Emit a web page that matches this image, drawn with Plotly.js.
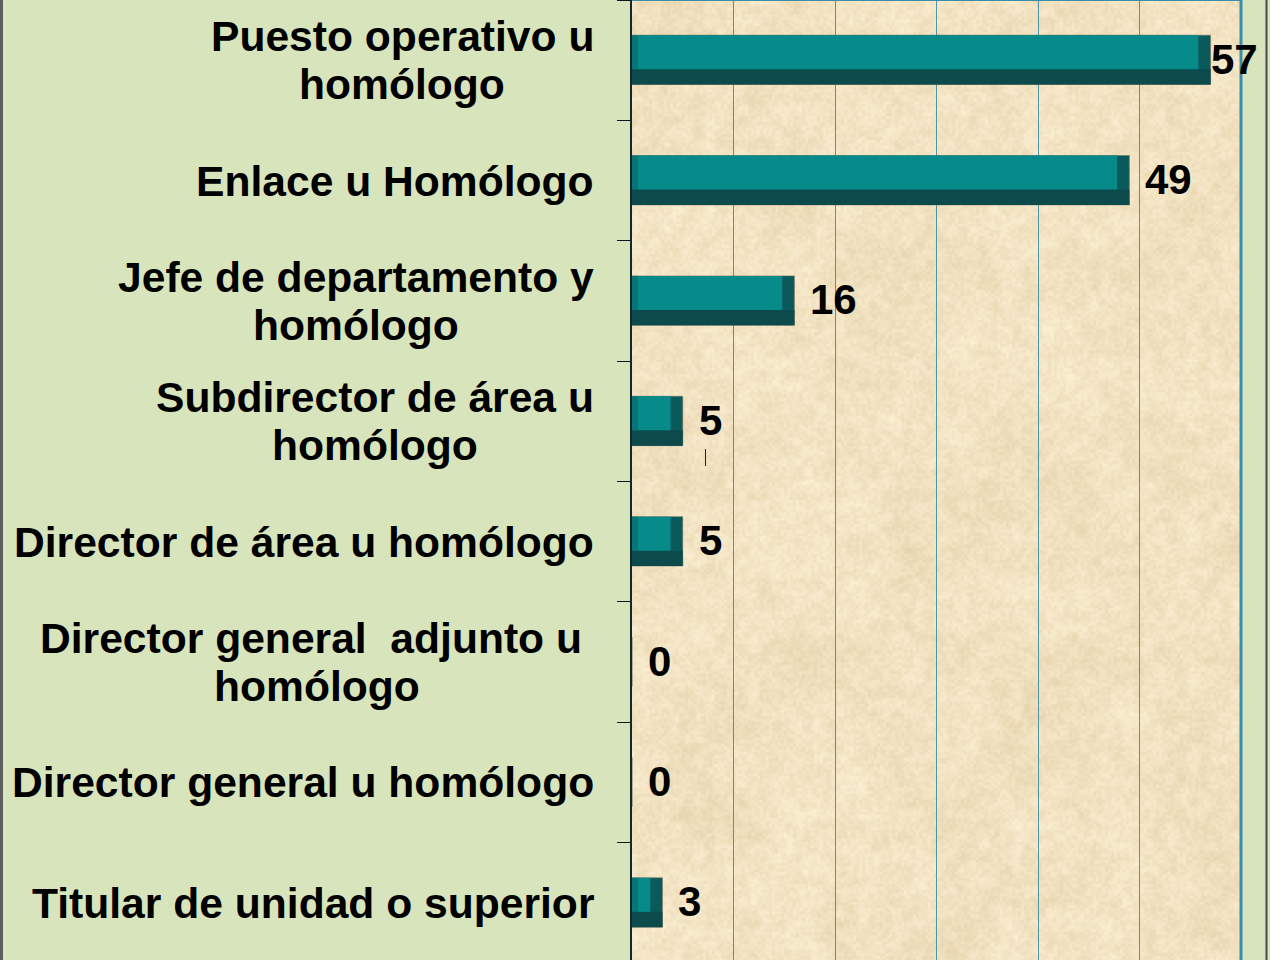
<!DOCTYPE html>
<html>
<head>
<meta charset="utf-8">
<script src="https://cdn.plot.ly/plotly-3.0.1.min.js"></script>
<style>
  html, body { margin: 0; padding: 0; background: #D8E4BC; }
  #chart { width: 1270px; height: 960px; }
</style>
</head>
<body>
<div id="chart"></div>
<script>
// ---- data ----
const categories = [
  "Puesto operativo u<br>homólogo",
  "Enlace u Homólogo",
  "Jefe de departamento y<br>homólogo",
  "Subdirector de área u<br>homólogo",
  "Director de área u homólogo",
  "Director general\u00a0 adjunto u\u00a0<br>homólogo",
  "Director general u homólogo",
  "Titular de unidad o superior"
];
const values = [57, 49, 16, 5, 5, 0, 0, 3];
const xTickValues = [0, 10, 20, 30, 40, 50, 60];

// ---- geometry helpers (layout only) ----
const W = 1270, H = 960;
const plotLeft = 632, plotRight = 1241;
const plotW = plotRight - plotLeft;
const xMax = 60;
const pxPerUnit = plotW / xMax;
const px2paperX = px => (px - plotLeft) / plotW;
const px2paperY = py => 1 - py / H;

const pos = values.map((v, i) => i);
const rightBevel = 1.2, leftBevel = 0.55;

// ---- texture for plot area (deterministic value noise) ----
function makeTexture(w, h) {
  const c = document.createElement('canvas');
  c.width = w; c.height = h;
  const ctx = c.getContext('2d');
  const img = ctx.createImageData(w, h);
  const hash = (x, y, s) => {
    const t = Math.sin(x * 127.1 + y * 311.7 + s * 74.7) * 43758.5453;
    return t - Math.floor(t);
  };
  const smooth = t => t * t * (3 - 2 * t);
  const vnoise = (x, y, cell, s) => {
    const gx = x / cell, gy = y / cell;
    const x0 = Math.floor(gx), y0 = Math.floor(gy);
    const fx = smooth(gx - x0), fy = smooth(gy - y0);
    const a = hash(x0, y0, s), b = hash(x0 + 1, y0, s);
    const c2 = hash(x0, y0 + 1, s), d = hash(x0 + 1, y0 + 1, s);
    return (a * (1 - fx) + b * fx) * (1 - fy) + (c2 * (1 - fx) + d * fx) * fy;
  };
  for (let y = 0; y < h; y++) {
    for (let x = 0; x < w; x++) {
      const n = 0.4 * vnoise(x, y, 3, 1) + 0.35 * vnoise(x, y, 11, 2) + 0.25 * vnoise(x, y, 55, 3);
      const k = (n - 0.5);
      const i4 = (y * w + x) * 4;
      img.data[i4] = 241 + k * 24;
      img.data[i4 + 1] = 226 + k * 30;
      img.data[i4 + 2] = 193 + k * 42;
      img.data[i4 + 3] = 255;
    }
  }
  ctx.putImageData(img, 0, 0);
  return c.toDataURL('image/png');
}
const texture = makeTexture(plotW, H);

// ---- bar traces (layered to imitate bevelled bars) ----
const common = {
  type: 'bar', orientation: 'h', y: pos, hoverinfo: 'skip', showlegend: false
};
const traces = [
  Object.assign({}, common, {
    x: values, base: values.map(() => 0),
    offset: -0.208, width: 0.41,
    marker: { color: '#0B5A5B', line: { color: 'rgba(110,110,95,0.55)', width: 1 } }
  }),
  Object.assign({}, common, {
    x: values, base: values.map(() => 0),
    offset: 0.075, width: 0.127,
    marker: { color: '#0C4A4B', line: { width: 0 } }
  }),
  Object.assign({}, common, {
    x: values.map(v => Math.min(leftBevel, v / 2)), base: values.map(() => 0),
    offset: -0.208, width: 0.283,
    marker: { color: '#087676', line: { width: 0 } }
  }),
  Object.assign({}, common, {
    x: values.map(v => Math.max(0, v - leftBevel - rightBevel)),
    base: values.map(v => Math.min(leftBevel, v / 2)),
    offset: -0.208, width: 0.283,
    marker: { color: '#068A8A', line: { width: 0 } }
  })
];

// ---- annotations ----
const fontFam = 'Liberation Sans, Arial, Helvetica, sans-serif';
const labelSize = 42.6, valueSize = 42;
const lineGap = 48;
const measure = (() => {
  const cv = document.createElement('canvas').getContext('2d');
  cv.font = 'bold ' + labelSize + 'px "Liberation Sans", Arial, sans-serif';
  return s => cv.measureText(s).width;
})();

const annotations = [];
categories.forEach((c, i) => {
  const lines = c.split('<br>');
  const maxW = Math.max(...lines.map(measure));
  const n = lines.length;
  lines.forEach((ln, k) => {
    annotations.push({
      xref: 'paper', yref: 'y', x: 0, y: pos[i],
      xanchor: 'center', yanchor: 'middle',
      xshift: -38 - maxW / 2, yshift: ((n - 1) / 2 - k) * lineGap,
      text: '<b>' + ln + '</b>', showarrow: false, align: 'center',
      borderpad: 0,
      font: { family: fontFam, size: labelSize, color: '#000000' }
    });
  });
});
values.forEach((v, i) => {
  const overflow = (v * pxPerUnit + 17 + 44) > plotW;
  annotations.push({
    xref: 'x', yref: 'y', x: v, y: pos[i],
    xanchor: 'left', yanchor: 'middle', xshift: overflow ? -2 : 14, yshift: 1,
    text: '<b>' + v + '</b>', showarrow: false,
    font: { family: fontFam, size: valueSize, color: '#000000' }
  });
});

// ---- decorative shapes ----
const shapes = [
  { type: 'line', xref: 'paper', yref: 'paper', x0: 0, x1: 1, y0: 1, y1: 1,
    line: { color: '#3C8CAA', width: 2 }, layer: 'above' },
  { type: 'line', xref: 'paper', yref: 'paper', x0: 1, x1: 1, y0: 0, y1: 1,
    line: { color: '#3C8CAA', width: 3 }, layer: 'above' },
  { type: 'line', xref: 'paper', yref: 'paper', x0: px2paperX(1.5), x1: px2paperX(1.5), y0: 0, y1: 1,
    line: { color: '#5E5E5E', width: 3 } },
  { type: 'line', xref: 'paper', yref: 'paper', x0: px2paperX(1266.5), x1: px2paperX(1266.5), y0: 0, y1: 1,
    line: { color: '#4A4A4A', width: 2 } },
  { type: 'line', xref: 'paper', yref: 'paper', x0: px2paperX(705.5), x1: px2paperX(705.5),
    y0: px2paperY(449), y1: px2paperY(466), line: { color: '#222', width: 1 }, layer: 'above' }
];

const layout = {
  width: W, height: H,
  margin: { l: plotLeft, r: W - plotRight, t: 0, b: 0, pad: 0 },
  paper_bgcolor: '#D8E4BC',
  plot_bgcolor: '#EFE0BF',
  barmode: 'overlay',
  font: { family: fontFam },
  xaxis: {
    range: [0, xMax], tickvals: xTickValues, showticklabels: false, ticks: '',
    showgrid: true, gridcolor: '#4E96A6', gridwidth: 1, zeroline: false, showline: false,
    fixedrange: true
  },
  yaxis: {
    range: [7.475, -0.5], tickvals: [-0.5, 0.5, 1.5, 2.5, 3.5, 4.5, 5.5, 6.5],
    ticktext: ['', '', '', '', '', '', '', ''], ticks: 'outside', ticklen: 13,
    tickcolor: '#111', tickwidth: 1, showgrid: false, zeroline: false,
    showline: true, linecolor: '#102A2B', linewidth: 2, fixedrange: true
  },
  images: [{
    source: texture, xref: 'paper', yref: 'paper', x: 0, y: 1, sizex: 1, sizey: 1,
    xanchor: 'left', yanchor: 'top', sizing: 'stretch', layer: 'below'
  }],
  annotations: annotations,
  shapes: shapes
};

Plotly.newPlot('chart', traces, layout, { displayModeBar: false, staticPlot: true });
</script>
</body>
</html>
